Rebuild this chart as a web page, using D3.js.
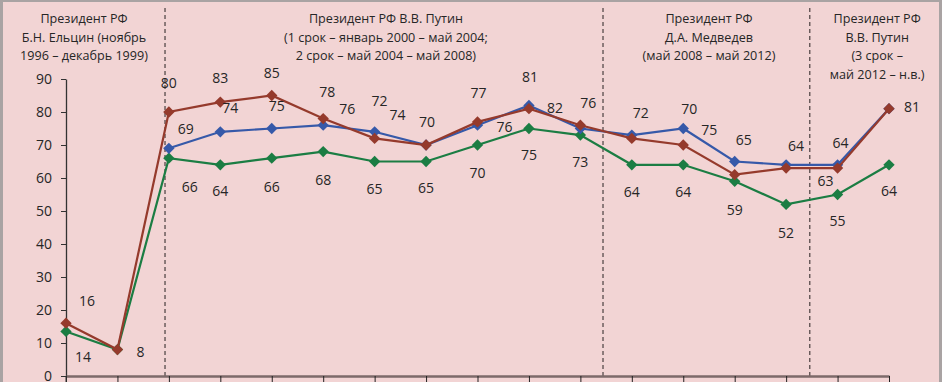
<!DOCTYPE html>
<html>
<head>
<meta charset="utf-8">
<script src="https://cdn.jsdelivr.net/npm/d3@7"></script>
<style>
  body { margin: 0; background: #fff; }
  text { font-family: "Open Sans", sans-serif; fill: #262626; }
</style>
</head>
<body>
<div id="chart"></div>
<script>
// data (x labels are cut off in the reference)
const categories = d3.range(1, 18).map(String);
const redValues   = [16, 8, 80, 83, 85, 78, 72, 70, 77, 81, 76, 72, 70, 61, 63, 63, 81];
const blueValues  = [null, null, 69, 74, 75, 76, 74, 70, 76, 82, 75, 73, 75, 65, 64, 64, 81];
const greenValues = [13.5, 8, 66, 64, 66, 68, 65, 65, 70, 75, 73, 64, 64, 59, 52, 55, 64];
const yTicks = [0, 10, 20, 30, 40, 50, 60, 70, 80, 90];
const periodTitles = [
  ["Президент РФ", "Б.Н. Ельцин (ноябрь", "1996 – декабрь 1999)"],
  ["Президент РФ В.В. Путин", "(1 срок –  январь 2000 – май 2004;", "2 срок –  май 2004 – май 2008)"],
  ["Президент РФ", "Д.А. Медведев", "(май 2008 – май 2012)"],
  ["Президент РФ", "В.В. Путин", "(3 срок –", "май 2012 – н.в.)"]
];

// layout: where things sit, in category-index units / pixels
const periodBreaks = [1.925, 10.44, 14.46];
const titleCenters = [0.35, 6.22, 12.5, 15.77];

// label offsets [dx, dy] from each point, null = no label shown
const redLabelPos = [[21,-23],[23,2],[0,-30],[0,-25],[0,-23],[4,-27],[5,-38],[1,-24],[1,-29],[1,-32],[8,-23],[9,-26],[6,-37],null,null,[-12,12],[23,-2]];
const blueLabelPos = [null,null,[17,-20],[10,-24],[5,-23],[24,-17],[23,-17],null,[27,1],[26,2],null,null,[26,1],[9,-22],[10,-19],[3,-22],null];
const greenLabelPos = [[17,25],null,[21,28],[0,26],[0,28],[0,28],[0,27],[0,26],[0,27],[0,26],[0,26],[0,27],[0,27],[0,28],[0,28],[0,26],[0,26]];

const W = 942, H = 382;
const svg = d3.select("#chart").append("svg")
  .attr("width", W).attr("height", H);

// background + frame
svg.append("rect").attr("width", W).attr("height", H).attr("fill", "#f2d4d4");
svg.append("rect").attr("x", 0).attr("y", 0).attr("width", 3).attr("height", H).attr("fill", "#a9a3a3");
svg.append("rect").attr("x", 0).attr("y", 0).attr("width", W).attr("height", 2).attr("fill", "#a9a3a3");
svg.append("rect").attr("x", 939).attr("y", 0).attr("width", 3).attr("height", H).attr("fill", "#a9a3a3");

const x = d3.scalePoint().domain(categories).range([66, 889]);
const xIdx = d3.scaleLinear().domain([0, 16]).range([66, 889]);
const y = d3.scaleLinear().domain([0, 90]).range([376, 79]);

// period separators
svg.selectAll(".sep")
  .data(periodBreaks)
  .enter().append("line")
  .attr("class", "sep")
  .attr("x1", d => xIdx(d)).attr("x2", d => xIdx(d))
  .attr("y1", 8).attr("y2", y(0))
  .attr("stroke", "#4a4040").attr("stroke-width", 1.2)
  .attr("stroke-dasharray", "4,3");

// period titles
periodTitles.forEach((lines, i) => {
  const t = svg.append("text")
    .attr("text-anchor", "middle")
    .style("font-size", "12.6px");
  lines.forEach((ln, j) => {
    t.append("tspan")
      .attr("x", xIdx(titleCenters[i]))
      .attr("y", 23 + j * 18.5)
      .text(ln);
  });
});

// axes
const yAxis = d3.axisLeft(y).tickValues(yTicks).tickSizeInner(5).tickSizeOuter(0).tickPadding(9);
const gy = svg.append("g").attr("transform", "translate(66,0)").call(yAxis);
gy.select(".domain").attr("stroke", "#333").attr("stroke-width", 1.3);
gy.selectAll(".tick line").attr("stroke", "#333");
gy.selectAll("text").style("font-size", "14px").style("font-family", "Open Sans").attr("fill", "#262626");

const xAxis = d3.axisBottom(x).tickSizeInner(7).tickSizeOuter(0).tickFormat("");
const gx = svg.append("g").attr("transform", `translate(0,${y(0)})`).call(xAxis);
gx.select(".domain").attr("stroke", "#7d6a6a").attr("stroke-width", 2.5);
gx.selectAll(".tick line").attr("stroke", "#222");
svg.append("line").attr("x1", 66).attr("x2", 66).attr("y1", y(0)).attr("y2", H).attr("stroke", "#333");

// series
const series = [
  { values: greenValues, color: "#1b7d43", labels: greenLabelPos },
  { values: blueValues,  color: "#3659a9", labels: blueLabelPos },
  { values: redValues,   color: "#953a2c", labels: redLabelPos }
];

const line = d3.line()
  .defined(d => d.v != null)
  .x(d => x(d.c))
  .y(d => y(d.v));

series.forEach(s => {
  const pts = s.values.map((v, i) => ({ c: categories[i], v: v, lab: s.labels[i] }));
  svg.append("path")
    .datum(pts)
    .attr("d", line)
    .attr("fill", "none")
    .attr("stroke", s.color)
    .attr("stroke-width", 2.2);
  svg.append("g").selectAll("path")
    .data(pts.filter(d => d.v != null))
    .enter().append("path")
    .attr("d", d3.symbol().type(d3.symbolSquare).size(64))
    .attr("transform", d => `translate(${x(d.c)},${y(d.v)}) rotate(45)`)
    .attr("fill", s.color);
});

// data labels drawn last so they sit on top
series.forEach(s => {
  const pts = s.values.map((v, i) => ({ c: categories[i], v: v, lab: s.labels[i] }));
  svg.append("g").selectAll("text")
    .data(pts.filter(d => d.v != null && d.lab))
    .enter().append("text")
    .attr("x", d => x(d.c) + d.lab[0])
    .attr("y", d => y(d.v) + d.lab[1])
    .attr("text-anchor", "middle")
    .attr("dominant-baseline", "central")
    .style("font-size", "14px")
    .text(d => Math.round(d.v));
});
</script>
</body>
</html>
